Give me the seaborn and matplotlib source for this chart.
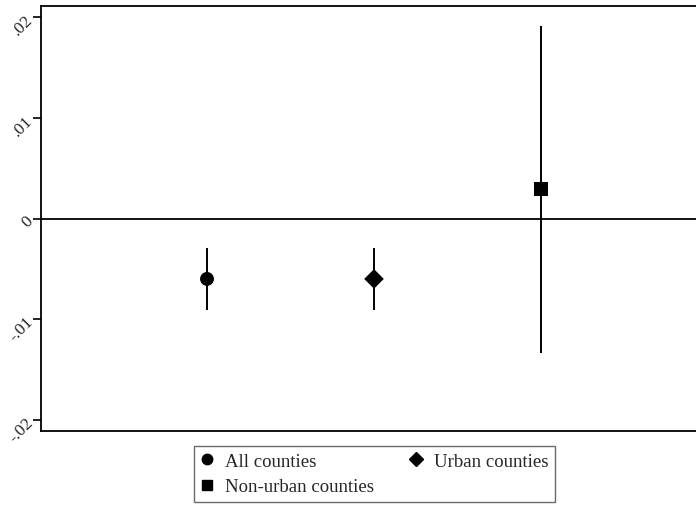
import matplotlib
matplotlib.use("Agg")
import matplotlib.pyplot as plt
from matplotlib.lines import Line2D
import seaborn as sns
import pandas as pd

# estimates and 95% intervals
groups = ["All counties", "Urban counties", "Non-urban counties"]
positions = [1, 2, 3]
estimates = [-0.0060, -0.0060, 0.0029]
ci_low = [-0.0091, -0.0091, -0.0134]
ci_high = [-0.0029, -0.0029, 0.0191]
yticks = [-0.02, -0.01, 0.0, 0.01, 0.02]
ytick_labels = ["-.02", "-.01", "0", ".01", ".02"]

df = pd.DataFrame({"group": groups, "pos": positions, "est": estimates,
                   "lo": ci_low, "hi": ci_high})
markers = {"All counties": "o", "Urban counties": "D", "Non-urban counties": "s"}
leg_sizes = {"All counties": 7.5, "Urban counties": 7, "Non-urban counties": 7}

sns.set_style("white")
plt.rcParams["font.family"] = ["Liberation Serif", "DejaVu Serif"]

fig = plt.figure(figsize=(6.96, 5.06), dpi=100)
ax = fig.add_axes([41 / 696, 1 - 432 / 506, 1 - 41 / 696, 425 / 506])

ax.axhline(0, color="black", lw=1.3, zorder=1)
ax.vlines(df["pos"], df["lo"], df["hi"], color="black", lw=1.4, zorder=2)
sns.scatterplot(data=df, x="pos", y="est", style="group", markers=markers,
                color="black", s=100, edgecolor="black", linewidth=0,
                legend=False, ax=ax, zorder=3)

ax.set_xlim(0.006, 3.928)
ax.set_ylim(-0.0211, 0.0211)
ax.set_xticks([])
ax.set_yticks(yticks)
ax.set_yticklabels(ytick_labels, rotation=45, fontsize=12.5, va="center", ha="right",
                   rotation_mode="anchor")
ax.tick_params(axis="y", direction="out", length=6, width=1.2, color="black",
               left=True, pad=1.5)
ax.set_xlabel("")
ax.set_ylabel("")
for side in ["left", "top", "bottom"]:
    ax.spines[side].set_color("black")
    ax.spines[side].set_linewidth(1.3)
ax.spines["right"].set_visible(False)

# matplotlib fills legend columns first, so reorder to get two rows
order = ["All counties", "Non-urban counties", "Urban counties"]
handles = [Line2D([], [], marker=markers[g], color="black", ls="none",
                  markersize=leg_sizes[g]) for g in order]
leg = fig.legend(handles, order, ncol=2, loc="upper center",
                 bbox_to_anchor=(374.5 / 696, 1 - 447 / 506), frameon=True,
                 fancybox=False, fontsize=13.5, handlelength=0.7,
                 handletextpad=0.6, columnspacing=1.9, labelspacing=0.45,
                 borderpad=0.35, borderaxespad=0)
leg.get_frame().set_edgecolor("#444444")
leg.get_frame().set_linewidth(1.0)

fig.savefig("out.png", dpi=100)
